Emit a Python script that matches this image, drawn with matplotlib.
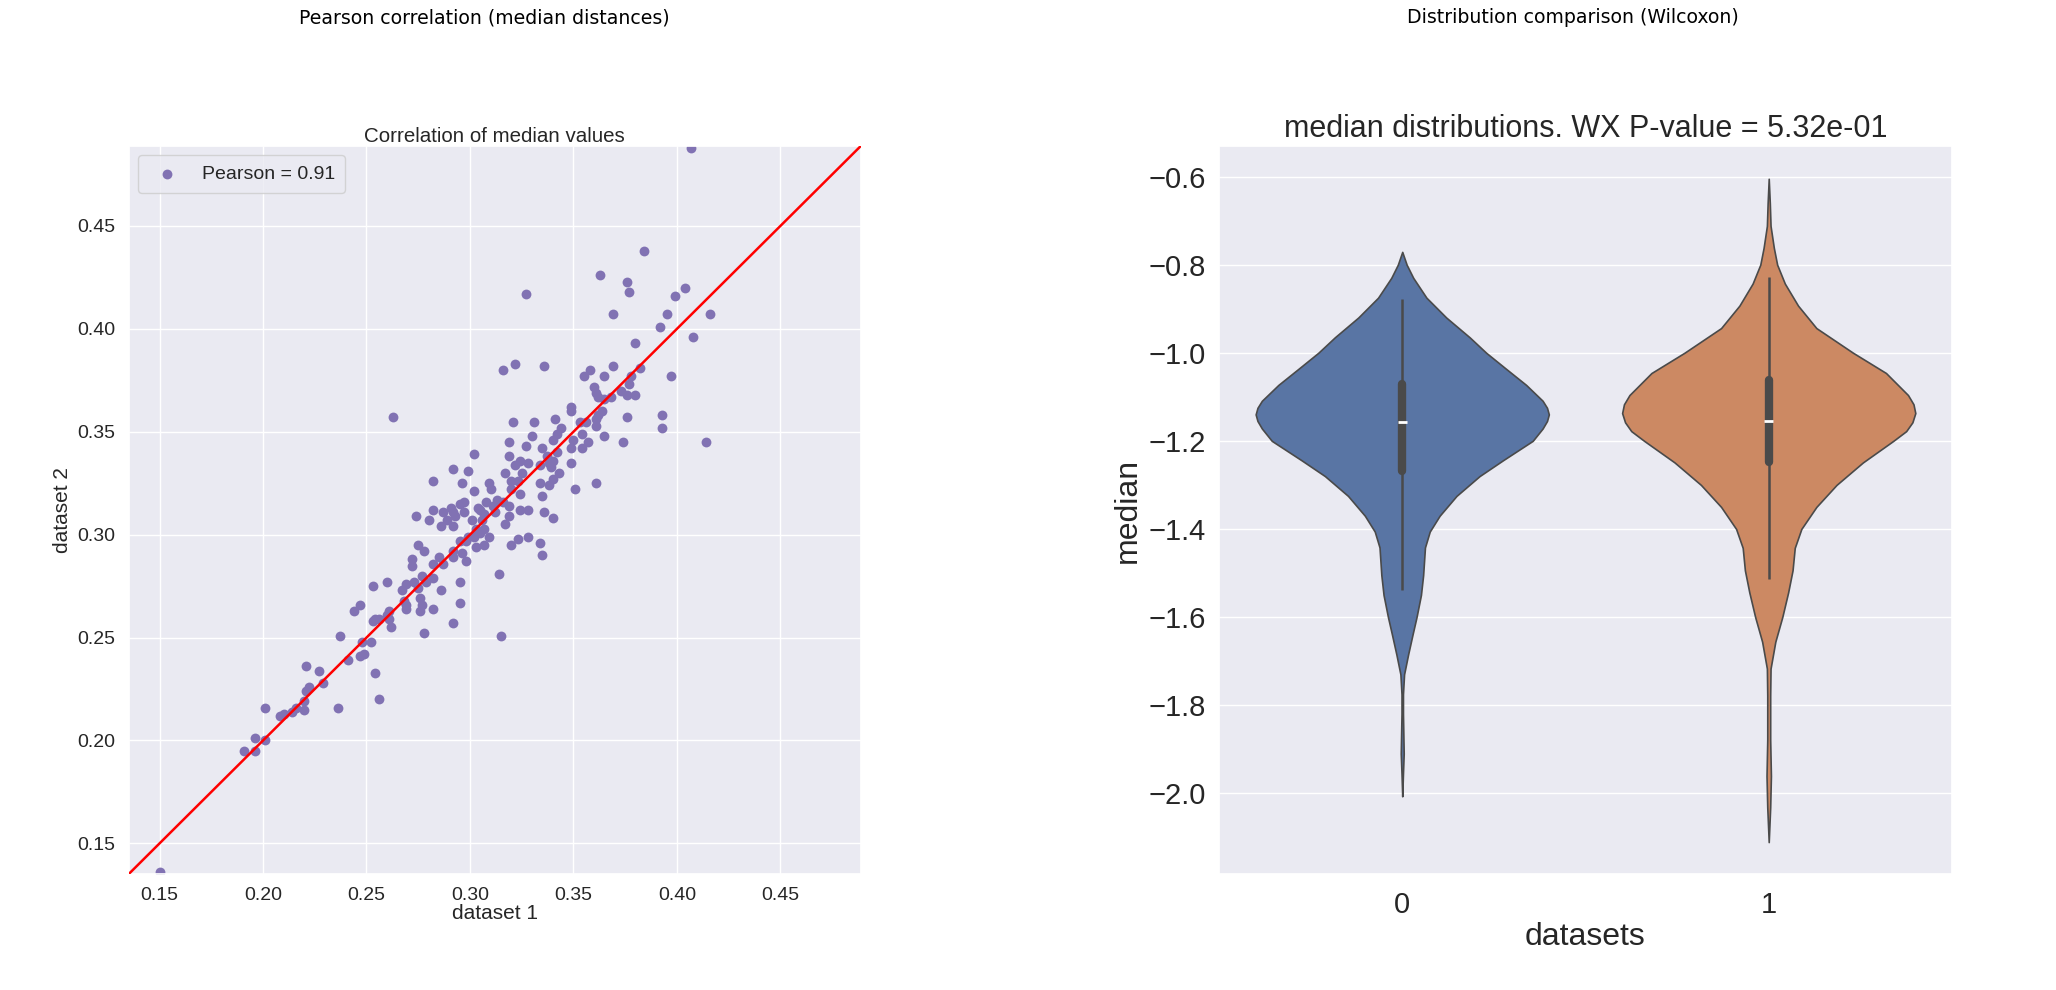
import numpy as np
import matplotlib
matplotlib.use("Agg")
import matplotlib.pyplot as plt
import seaborn as sns

# medians per item, dataset 1 vs dataset 2
pts = [
    (0.327, 0.417), (0.322, 0.383), (0.316, 0.380), (0.263, 0.357), (0.321, 0.355), (0.319, 0.345), (0.327, 0.343),
    (0.384, 0.438), (0.363, 0.426), (0.376, 0.423), (0.377, 0.418), (0.404, 0.420), (0.399, 0.416), (0.395, 0.407),
    (0.416, 0.407), (0.369, 0.407), (0.392, 0.401), (0.408, 0.396), (0.380, 0.393), (0.336, 0.382), (0.382, 0.381),
    (0.358, 0.380), (0.355, 0.377), (0.369, 0.382), (0.365, 0.377), (0.397, 0.377), (0.378, 0.377), (0.377, 0.373),
    (0.360, 0.372), (0.361, 0.369), (0.362, 0.367), (0.368, 0.367), (0.373, 0.370), (0.376, 0.368), (0.380, 0.368),
    (0.365, 0.366), (0.349, 0.362), (0.349, 0.360), (0.364, 0.360), (0.376, 0.357), (0.393, 0.358), (0.393, 0.352),
    (0.331, 0.355), (0.341, 0.356), (0.344, 0.352), (0.353, 0.355), (0.356, 0.355), (0.361, 0.356), (0.362, 0.358),
    (0.361, 0.353), (0.330, 0.348), (0.342, 0.349), (0.354, 0.349), (0.365, 0.348), (0.340, 0.346), (0.350, 0.346),
    (0.357, 0.345), (0.374, 0.345), (0.414, 0.345), (0.335, 0.342), (0.349, 0.342), (0.354, 0.342),
    (0.302, 0.339), (0.319, 0.338), (0.292, 0.332), (0.299, 0.331), (0.322, 0.334), (0.324, 0.336), (0.328, 0.335),
    (0.317, 0.330), (0.325, 0.330), (0.282, 0.326), (0.296, 0.325), (0.309, 0.325), (0.320, 0.326), (0.323, 0.326),
    (0.310, 0.322), (0.302, 0.321), (0.320, 0.322), (0.324, 0.320), (0.313, 0.317), (0.308, 0.316), (0.297, 0.316),
    (0.295, 0.315), (0.291, 0.313), (0.282, 0.312), (0.287, 0.311), (0.304, 0.313), (0.305, 0.312), (0.311, 0.314),
    (0.316, 0.316), (0.319, 0.314), (0.324, 0.312), (0.328, 0.312), (0.292, 0.311), (0.297, 0.311), (0.293, 0.309),
    (0.307, 0.310), (0.312, 0.311), (0.274, 0.309), (0.280, 0.307), (0.289, 0.307), (0.301, 0.307), (0.319, 0.309),
    (0.306, 0.307), (0.286, 0.304), (0.292, 0.304), (0.317, 0.305), (0.303, 0.303), (0.307, 0.303), (0.305, 0.301),
    (0.299, 0.299), (0.302, 0.299), (0.309, 0.299), (0.295, 0.297), (0.323, 0.298), (0.328, 0.299), (0.298, 0.297),
    (0.303, 0.294), (0.307, 0.295), (0.320, 0.295), (0.275, 0.295), (0.278, 0.292), (0.292, 0.292), (0.296, 0.291),
    (0.272, 0.288), (0.285, 0.289), (0.292, 0.289), (0.298, 0.287), (0.272, 0.285), (0.282, 0.286), (0.287, 0.286),
    (0.314, 0.281), (0.277, 0.280), (0.282, 0.279), (0.273, 0.277), (0.279, 0.277), (0.260, 0.277), (0.253, 0.275),
    (0.295, 0.277), (0.269, 0.276), (0.267, 0.273), (0.275, 0.274), (0.286, 0.273), (0.276, 0.269), (0.268, 0.268),
    (0.295, 0.267), (0.247, 0.266), (0.244, 0.263), (0.269, 0.266), (0.277, 0.266), (0.282, 0.264), (0.269, 0.264),
    (0.276, 0.263), (0.261, 0.263), (0.260, 0.261), (0.254, 0.259), (0.253, 0.258), (0.256, 0.259), (0.261, 0.259),
    (0.262, 0.255), (0.292, 0.257), (0.237, 0.251), (0.278, 0.252), (0.315, 0.251), (0.248, 0.248), (0.252, 0.248),
    (0.342, 0.340), (0.334, 0.334), (0.338, 0.335), (0.340, 0.336), (0.349, 0.335), (0.337, 0.338), (0.339, 0.333),
    (0.343, 0.330), (0.340, 0.327), (0.361, 0.325), (0.334, 0.325), (0.338, 0.324), (0.351, 0.322), (0.335, 0.319),
    (0.336, 0.311), (0.340, 0.308), (0.334, 0.296), (0.335, 0.290),
    (0.241, 0.239), (0.247, 0.241), (0.249, 0.242), (0.221, 0.236), (0.227, 0.234), (0.254, 0.233), (0.229, 0.228),
    (0.222, 0.226), (0.221, 0.224), (0.220, 0.219), (0.220, 0.215), (0.214, 0.214), (0.210, 0.213), (0.208, 0.212),
    (0.216, 0.216), (0.201, 0.216), (0.236, 0.216), (0.256, 0.220), (0.196, 0.201), (0.201, 0.200), (0.191, 0.195),
    (0.196, 0.195), (0.150, 0.136), (0.407, 0.488),
]
d1 = [p[0] for p in pts]
d2 = [p[1] for p in pts]
pearson = 0.91
lims = [0.135, 0.489]

# violin outlines (value, half width)
v0_y = [-0.771, -0.800, -0.830, -0.875, -0.920, -0.965, -1.000, -1.037, -1.073, -1.109, -1.125, -1.140,
        -1.155, -1.172, -1.200, -1.244, -1.280, -1.325, -1.370, -1.406, -1.442, -1.505, -1.550, -1.600,
        -1.640, -1.685, -1.730, -1.775, -1.820, -1.865, -1.910, -1.955, -2.007]
v0_w = [0.0, 0.012, 0.030, 0.066, 0.120, 0.184, 0.229, 0.284, 0.338, 0.383, 0.395, 0.400,
        0.395, 0.383, 0.356, 0.275, 0.211, 0.148, 0.102, 0.075, 0.062, 0.057, 0.051, 0.039,
        0.028, 0.016, 0.005, 0.002, 0.002, 0.003, 0.004, 0.002, 0.0]
v1_y = [-0.605, -0.661, -0.712, -0.762, -0.800, -0.843, -0.893, -0.944, -1.000, -1.046, -1.096, -1.117,
        -1.137, -1.158, -1.178, -1.200, -1.249, -1.300, -1.350, -1.400, -1.443, -1.494, -1.544, -1.600,
        -1.656, -1.717, -1.778, -1.879, -1.961, -2.032, -2.111]
v1_w = [0.0, 0.003, 0.005, 0.014, 0.023, 0.044, 0.080, 0.130, 0.230, 0.320, 0.380, 0.395,
        0.400, 0.392, 0.375, 0.340, 0.257, 0.185, 0.130, 0.089, 0.071, 0.065, 0.053, 0.037,
        0.018, 0.005, 0.004, 0.004, 0.006, 0.004, 0.0]
# box stats: whisker low, q1, median, q3, whisker high
box0 = [-1.539, -1.269, -1.158, -1.071, -0.877]
box1 = [-1.513, -1.249, -1.155, -1.061, -0.827]
wx_p = 5.32e-01

sns.set_theme(style="darkgrid")
plt.rcParams['font.family'] = ['Liberation Sans', 'DejaVu Sans']

fig = plt.figure(figsize=(20.56, 9.9), dpi=100)
fig.text(0.2355, 0.982, "Pearson correlation (median distances)", ha='center', va='center',
         fontsize=13.6, family='DejaVu Sans', color='black')
fig.text(0.765, 0.982, "Distribution comparison (Wilcoxon)", ha='center', va='center',
         fontsize=13.6, family='DejaVu Sans', color='black')

# left: scatter
ax1 = fig.add_axes([0.0625, 0.1169, 0.3563, 0.7359])
ax1.scatter(d1, d2, s=50, color='#8172B3', linewidths=0, label="Pearson = %.2f" % pearson, zorder=2)
ax1.plot(lims, lims, color='red', lw=1.8, zorder=3)
ax1.set_xlim(lims)
ax1.set_ylim(lims)
ax1.set_xticks([0.15, 0.20, 0.25, 0.30, 0.35, 0.40, 0.45])
ax1.set_yticks([0.15, 0.20, 0.25, 0.30, 0.35, 0.40, 0.45])
ax1.tick_params(labelsize=14)
ax1.set_xlabel("dataset 1", fontsize=15, labelpad=0)
ax1.set_ylabel("dataset 2", fontsize=15, labelpad=4)
ax1.set_title("Correlation of median values", fontsize=14.8, pad=3)
ax1.legend(loc='upper left', fontsize=14, scatterpoints=1, borderpad=0.5)

# right: violins
ax2 = fig.add_axes([0.5929, 0.1169, 0.3565, 0.7359])
ax2.grid(axis='x', visible=False)
cols = ['#5975A4', '#CC8963']
for i, (vy, vw, bx) in enumerate([(v0_y, v0_w, box0), (v1_y, v1_w, box1)]):
    vy = np.array(vy)
    vw = np.array(vw)
    ax2.fill_betweenx(vy, i - vw, i + vw, facecolor=cols[i], edgecolor='#4a4a4a', lw=1.2, zorder=2)
    ax2.vlines(i, bx[0], bx[4], color='#4a4a4a', lw=1.8, zorder=3)
    ax2.vlines(i, bx[1], bx[3], color='#4a4a4a', lw=6, zorder=3, capstyle='round')
    ax2.hlines(bx[2], i - 0.012, i + 0.012, color='white', lw=2, zorder=4)
ax2.set_xlim(-0.5, 1.5)
ax2.set_ylim(-2.184, -0.530)
ax2.set_xticks([0, 1])
ax2.set_xticklabels(["0", "1"])
ax2.set_yticks([-2.0, -1.8, -1.6, -1.4, -1.2, -1.0, -0.8, -0.6])
ax2.tick_params(axis='x', labelsize=21, pad=6)
ax2.tick_params(axis='y', labelsize=21)
ax2.set_xlabel("datasets", fontsize=23, labelpad=2)
ax2.set_ylabel("median", fontsize=23, labelpad=4)
ax2.set_title("median distributions. WX P-value = %.2e" % wx_p, fontsize=22, pad=6)

fig.savefig("out.png", dpi=100)
